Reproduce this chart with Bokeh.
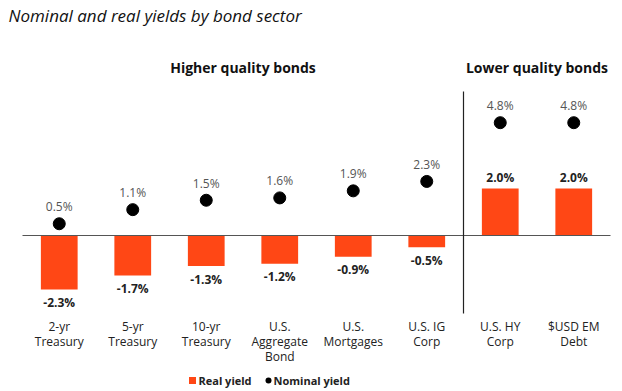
from bokeh.plotting import figure
from bokeh.models import ColumnDataSource, Range1d
from bokeh.core.properties import value
from bokeh.embed import file_html
from bokeh.resources import INLINE

categories = ["2-yr\nTreasury", "5-yr\nTreasury", "10-yr\nTreasury", "U.S.\nAggregate\nBond",
              "U.S.\nMortgages", "U.S. IG\nCorp", "U.S. HY\nCorp", "$USD EM\nDebt"]
real_yield = [-2.3, -1.7, -1.3, -1.2, -0.9, -0.5, 2.0, 2.0]
nominal_yield = [0.5, 1.1, 1.5, 1.6, 1.9, 2.3, 4.8, 4.8]
real_labels = ["-2.3%", "-1.7%", "-1.3%", "-1.2%", "-0.9%", "-0.5%", "2.0%", "2.0%"]
nominal_labels = ["0.5%", "1.1%", "1.5%", "1.6%", "1.9%", "2.3%", "4.8%", "4.8%"]
groups = ["Higher quality bonds", "Lower quality bonds"]
group_span = [(0, 5), (6, 7)]
title_text = "Nominal and real yields by bond sector"

ORANGE = "#ff4715"
FONT = "Open Sans"

W, H = 622, 391
PX_PER_UNIT_Y = 23.5
ZERO_Y = 235
CAT_W = 73.5
LEFT = 22

x_start = -0.5 - LEFT / CAT_W
x_end = x_start + W / CAT_W
y_top = ZERO_Y / PX_PER_UNIT_Y
y_bot = -(H - ZERO_Y) / PX_PER_UNIT_Y


def py(img_y):
    return (ZERO_Y - img_y) / PX_PER_UNIT_Y


def px(img_x):
    return x_start + img_x / CAT_W


p = figure(width=W, height=H, output_backend="svg", toolbar_location=None,
           x_range=Range1d(x_start, x_end), y_range=Range1d(y_bot, y_top),
           min_border=0, outline_line_color=None)
p.axis.visible = False
p.grid.visible = False
p.background_fill_color = "white"
p.border_fill_color = "white"

xs = list(range(len(categories)))
src = ColumnDataSource(dict(x=xs, real=real_yield, nom=nominal_yield,
                            rl=real_labels, nl=nominal_labels, cat=categories))

p.vbar(x="x", top="real", bottom=0, width=0.5, source=src, fill_color=ORANGE, line_color=None)
p.segment(x0=[-0.5], x1=[len(categories) - 0.5], y0=[0], y1=[0], line_color="#555555", line_width=1.2)
p.segment(x0=[5.5], x1=[5.5], y0=[py(91)], y1=[py(313)], line_color="#222222", line_width=1.2)
p.scatter(x="x", y="nom", source=src, size=12, fill_color="black", line_color="black")

# nominal labels
p.text(x="x", y="nom", text="nl", source=src, y_offset=-17, text_align="center",
       text_baseline="middle", text_font=value(FONT), text_font_size="12px", text_color="#555555")

# real labels
pos = ColumnDataSource(dict(x=[x for x, v in zip(xs, real_yield) if v >= 0],
                            y=[v for v in real_yield if v >= 0],
                            t=[l for l, v in zip(real_labels, real_yield) if v >= 0]))
neg = ColumnDataSource(dict(x=[x for x, v in zip(xs, real_yield) if v < 0],
                            y=[v for v in real_yield if v < 0],
                            t=[l for l, v in zip(real_labels, real_yield) if v < 0]))
p.text(x="x", y="y", text="t", source=pos, y_offset=-11, text_align="center", text_baseline="middle",
       text_font=value(FONT), text_font_size="12px", text_font_style="bold", text_color="#222222")
p.text(x="x", y="y", text="t", source=neg, y_offset=13, text_align="center", text_baseline="middle",
       text_font=value(FONT), text_font_size="12px", text_font_style="bold", text_color="#222222")

# category labels
p.text(x="x", y=py(317), text="cat", source=src, text_align="center", text_baseline="top",
       text_font=value(FONT), text_font_size="12px", text_color="#222222", text_line_height=0.9)

# group headers
gx = [(a + b) / 2 for a, b in group_span]
p.text(x=gx, y=[py(67)] * 2, text=groups, text_align="center", text_baseline="middle",
       text_font=value(FONT), text_font_size="14px", text_font_style="bold", text_color="#111111")

# title
p.text(x=[px(8)], y=[py(15)], text=[title_text], text_align="left", text_baseline="middle",
       text_font=value(FONT), text_font_size="17px", text_font_style="italic", text_color="#111111")

# legend
p.scatter(x=[px(192)], y=[py(380)], marker="square", size=7, fill_color=ORANGE, line_color=None)
p.text(x=[px(198)], y=[py(380)], text=["Real yield"], text_align="left", text_baseline="middle",
       text_font=value(FONT), text_font_size="11px", text_font_style="bold", text_color="#222222")
p.scatter(x=[px(268)], y=[py(380)], marker="circle", size=6, fill_color="black", line_color=None)
p.text(x=[px(273)], y=[py(380)], text=["Nominal yield"], text_align="left", text_baseline="middle",
       text_font=value(FONT), text_font_size="11px", text_font_style="bold", text_color="#222222")

open("out.html", "w").write(file_html(p, INLINE))
